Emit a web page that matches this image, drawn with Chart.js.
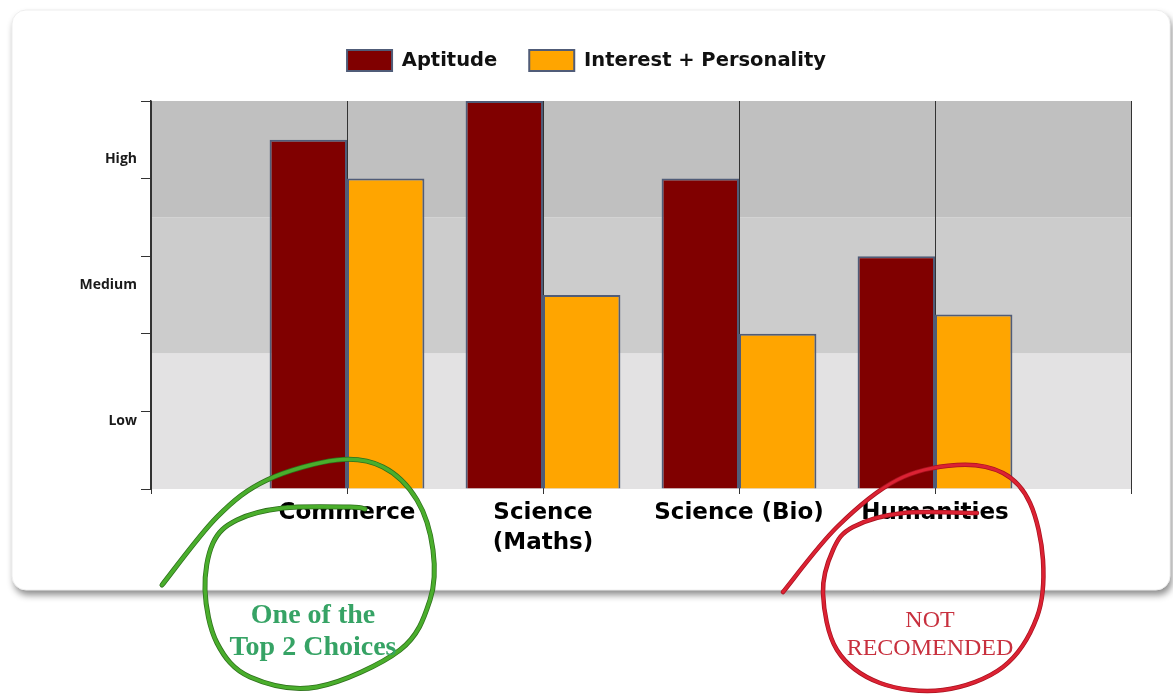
<!DOCTYPE html>
<html>
<head>
<meta charset="utf-8">
<title>Stream chart</title>
<script src="https://cdn.jsdelivr.net/npm/chart.js@4.4.1/dist/chart.umd.min.js"></script>
<style>
  html, body { margin: 0; padding: 0; background: #ffffff; }
  canvas { display: block; }
</style>
</head>
<body>
<canvas id="streamChart" width="1173" height="698"></canvas>
<script>
// datos del gráfico
const categories = ['Commerce', ['Science', '(Maths)'], 'Science (Bio)', 'Humanities'];
const aptitude = [90, 100, 80, 60];
const interest = [80, 50, 40, 45];
const levelNames = ['Low', 'Medium', 'High'];
const levelBands = [0, 35, 70, 100];
const levelMarks = [17.5, 52.5, 85];
const stepTicks = [0, 20, 40, 60, 80, 100];

const goodNote = ['One of the', 'Top 2 Choices'];
const badNote = ['NOT', 'RECOMENDED'];

// etiquetas con huecos a los lados (el eje va de 0 a 5)
const labels = ['', ...categories, ''];
const pad = arr => [null, ...arr, null];

// curva suave por puntos (catmull-rom)
function smoothPath(ctx, pts) {
    ctx.moveTo(pts[0][0], pts[0][1]);
    for (let i = 0; i < pts.length - 1; i++) {
        const p0 = pts[i - 1] || pts[i], p1 = pts[i], p2 = pts[i + 1], p3 = pts[i + 2] || p2;
        ctx.bezierCurveTo(
            p1[0] + (p2[0] - p0[0]) / 6, p1[1] + (p2[1] - p0[1]) / 6,
            p2[0] - (p3[0] - p1[0]) / 6, p2[1] - (p3[1] - p1[1]) / 6,
            p2[0], p2[1]);
    }
}

// trazos a mano alrededor de las categorías
const greenLoop = [[-185, 96], [-130, 28], [-80, -9], [-10, -29], [36, -22], [70, 11], [86, 61], [83, 111],
    [53, 161], [-30, 198], [-97, 188], [-130, 154], [-142, 101], [-134, 54], [-110, 31], [-64, 19], [3, 18], [18, 20]];
const redLoop = [[-152, 103], [-98, 38], [-38, -9], [22, -24], [68, -16], [95, 14], [108, 71], [102, 128],
    [68, 178], [8, 201], [-55, 194], [-98, 161], [-112, 104], [-102, 61], [-82, 38], [-32, 24], [42, 24]];

const backdrop = {
    id: 'backdrop',
    beforeInit(chart) {
        // dejar más aire bajo la leyenda
        const fit = chart.legend.fit;
        chart.legend.fit = function () {
            fit.call(this);
            this.height += 20;
        };
    },
    beforeDraw(chart) {
        const { ctx, chartArea: a, scales: { y } } = chart;
        // tarjeta blanca con sombra
        ctx.save();
        ctx.shadowColor = 'rgba(0,0,0,0.45)';
        ctx.shadowBlur = 7;
        ctx.shadowOffsetX = 2;
        ctx.shadowOffsetY = 5;
        ctx.fillStyle = '#ffffff';
        ctx.beginPath();
        ctx.roundRect(12, 10, 1158, 580, 14);
        ctx.fill();
        ctx.restore();
        ctx.save();
        ctx.strokeStyle = '#eeeeee';
        ctx.lineWidth = 1;
        ctx.beginPath();
        ctx.roundRect(12, 10, 1158, 580, 14);
        ctx.stroke();
        // bandas Low / Medium / High
        const colors = ['#e3e2e3', '#cccccc', '#c0c0c0'];
        for (let i = 0; i < 3; i++) {
            const top = y.getPixelForValue(levelBands[i + 1]);
            const bot = y.getPixelForValue(levelBands[i]);
            ctx.fillStyle = colors[i];
            ctx.fillRect(a.left, top, a.right - a.left, bot - top);
        }
        ctx.restore();
    },
    afterDraw(chart) {
        const { ctx, scales: { x }, chartArea: a } = chart;
        const drawLoop = (pts, idx, edge, color, width) => {
            const cx = x.getPixelForValue(idx), by = a.bottom;
            const path = pts.map(p => [cx + p[0], by + p[1]]);
            ctx.save();
            ctx.lineCap = 'round';
            ctx.lineJoin = 'round';
            ctx.strokeStyle = edge;
            ctx.lineWidth = width + 1.5;
            ctx.beginPath();
            smoothPath(ctx, path);
            ctx.stroke();
            ctx.strokeStyle = color;
            ctx.lineWidth = width;
            ctx.beginPath();
            smoothPath(ctx, path);
            ctx.stroke();
            ctx.restore();
        };
        drawLoop(greenLoop, 1, '#2e6f1c', '#4aae2c', 3.5);
        drawLoop(redLoop, 4, '#a8121f', '#dc2233', 3);

        ctx.save();
        ctx.textAlign = 'center';
        ctx.textBaseline = 'middle';
        ctx.fillStyle = '#36a365';
        ctx.font = 'bold 28px "Liberation Serif"';
        const gx = x.getPixelForValue(1) - 34;
        ctx.fillText(goodNote[0], gx, a.bottom + 127);
        ctx.fillText(goodNote[1], gx, a.bottom + 159);
        ctx.fillStyle = '#c8303e';
        ctx.font = '24px "Liberation Serif"';
        const rx = x.getPixelForValue(4) - 5;
        ctx.fillText(badNote[0], rx, a.bottom + 132);
        ctx.fillText(badNote[1], rx, a.bottom + 160);
        ctx.restore();
    }
};

const chart = new Chart(document.getElementById('streamChart').getContext('2d'), {
    type: 'bar',
    data: {
        labels: labels,
        datasets: [{
            label: 'Aptitude',
            data: pad(aptitude),
            backgroundColor: '#800000',
            borderColor: '#505c78',
            borderWidth: 2
        }, {
            label: 'Interest + Personality',
            data: pad(interest),
            backgroundColor: '#ffa500',
            borderColor: '#505c78',
            borderWidth: 2
        }]
    },
    options: {
        responsive: false,
        animation: false,
        layout: { padding: { top: 18, right: 42, left: 42, bottom: 0 } },
        datasets: { bar: { categoryPercentage: 0.79, barPercentage: 1.0 } },
        plugins: {
            tooltip: { enabled: false },
            legend: {
                position: 'top',
                labels: {
                    boxWidth: 45,
                    boxHeight: 21,
                    padding: 32,
                    color: '#111111',
                    font: { family: '"DejaVu Sans"', size: 19.5, weight: 'bold' }
                }
            }
        },
        scales: {
            x: {
                offset: false,
                grid: { offset: false, color: '#333333', lineWidth: 1, tickLength: 5, drawOnChartArea: true },
                border: { display: false },
                ticks: {
                    autoSkip: false,
                    maxRotation: 0,
                    padding: 4,
                    color: '#000000',
                    font: { family: '"DejaVu Sans"', size: 23, weight: 'bold', lineHeight: 1.3 }
                },
                afterFit(scale) { scale.height = 209; }
            },
            y: {
                min: 0,
                max: 100,
                afterBuildTicks(scale) {
                    scale.ticks = [...stepTicks, ...levelMarks].sort((p, q) => p - q).map(v => ({ value: v }));
                },
                grid: {
                    drawOnChartArea: false,
                    tickLength: 10,
                    tickColor: c => levelMarks.includes(c.tick && c.tick.value) ? 'rgba(0,0,0,0)' : '#333333'
                },
                border: { color: '#333333', width: 1.5 },
                ticks: {
                    autoSkip: false,
                    padding: 4,
                    color: '#1a1a1a',
                    font: { family: '"Open Sans"', size: 14, weight: '700' },
                    callback: v => {
                        const i = levelMarks.indexOf(v);
                        return i >= 0 ? levelNames[i] : '';
                    }
                },
                afterFit(scale) { scale.width = 109; }
            }
        }
    },
    plugins: [backdrop]
});
</script>
</body>
</html>
